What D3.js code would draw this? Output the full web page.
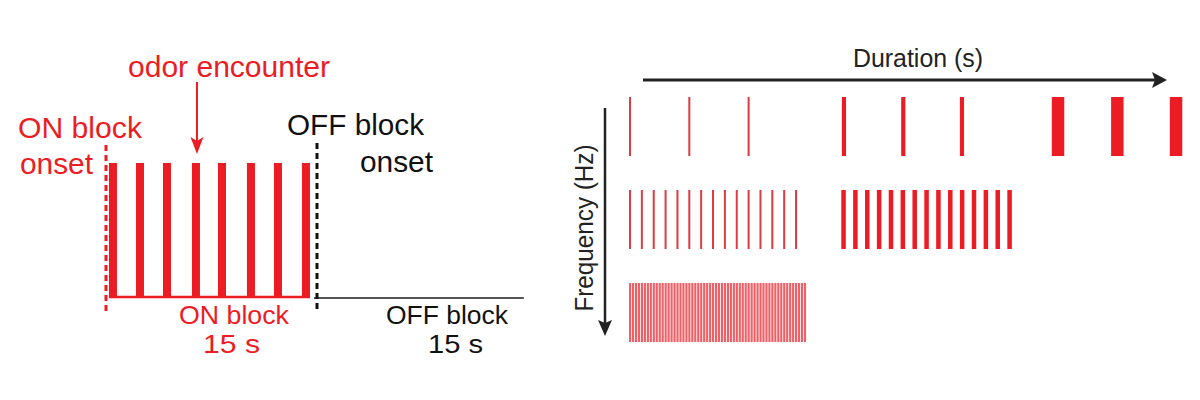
<!DOCTYPE html>
<html>
<head>
<meta charset="utf-8">
<script src="https://cdn.jsdelivr.net/npm/d3@7"></script>
<style>
  html, body { margin: 0; padding: 0; background: #fff; }
  svg { display: block; font-family: "Liberation Sans", Arial, Helvetica, sans-serif; }
</style>
</head>
<body>
<svg id="chart" width="1200" height="400"></svg>
<script>
// ---------- DATA ----------
// Left panel: odor pulses within a 15 s ON block followed by a 15 s OFF block (seconds)
const blockLabels = ["ON block", "OFF block"];
const blockDurations = [15, 15];
const onPulseOnsets = [0.21, 2.13, 4.05, 6.11, 7.96, 10.02, 11.94, 13.93];
const onPulseDuration = 0.57;
const baselineEnd = 29.7;

// Right panel: pulse trains, rows = frequency (low -> high), columns = pulse duration (short -> long)
const rowNames = ["low", "mid", "high"];
const row1Short  = [0, 1, 2];
const row1Medium = [3.59, 4.59, 5.58];
const row1Long   = [7.13, 8.13, 9.12];
const row2Short  = [0, 0.2, 0.4, 0.6, 0.8, 1.0, 1.2, 1.4, 1.6, 1.8, 2.0, 2.2, 2.4, 2.6, 2.8];
const row2Medium = [3.58, 3.78, 3.98, 4.18, 4.38, 4.58, 4.78, 4.98, 5.18, 5.38, 5.58, 5.78, 5.98, 6.18, 6.38];
const row3Short  = [0, 0.05, 0.1, 0.15, 0.2, 0.25, 0.3, 0.35, 0.4, 0.45,
                    0.5, 0.55, 0.6, 0.65, 0.7, 0.75, 0.8, 0.85, 0.9, 0.95,
                    1.0, 1.05, 1.1, 1.15, 1.2, 1.25, 1.3, 1.35, 1.4, 1.45,
                    1.5, 1.55, 1.6, 1.65, 1.7, 1.75, 1.8, 1.85, 1.9, 1.95,
                    2.0, 2.05, 2.1, 2.15, 2.2, 2.25, 2.3, 2.35, 2.4, 2.45,
                    2.5, 2.55, 2.6, 2.65, 2.7, 2.75, 2.8, 2.85, 2.9, 2.95];
const pulseDurations = { short: 0.034, medium: 0.07, long: 0.21, medium2: 0.076, dense: 0.036 };

const trains = [
  { row: "low",  onsets: row1Short,  dur: pulseDurations.short,   kind: "thin" },
  { row: "low",  onsets: row1Medium, dur: pulseDurations.medium,  kind: "solid" },
  { row: "low",  onsets: row1Long,   dur: pulseDurations.long,    kind: "solid" },
  { row: "mid",  onsets: row2Short,  dur: pulseDurations.short,   kind: "thin" },
  { row: "mid",  onsets: row2Medium, dur: pulseDurations.medium2, kind: "solid" },
  { row: "high", onsets: row3Short,  dur: pulseDurations.dense,   kind: "dense" }
];

// ---------- DRAW ----------
const svg = d3.select("#chart");
const RED = "#ec1c24";
const BLACK = "#111";

// Left panel scales
const xL = d3.scaleLinear().domain([0, 15]).range([106, 317]);
const yL = d3.scaleLinear().domain([0, 1]).range([298, 163]);

const left = svg.append("g");

// pulses
left.selectAll("rect.pulse").data(onPulseOnsets).join("rect")
  .attr("class", "pulse")
  .attr("x", d => xL(d))
  .attr("width", xL(onPulseDuration) - xL(0))
  .attr("y", yL(1))
  .attr("height", yL(0) - yL(1))
  .attr("fill", RED);

// baselines
left.append("line")
  .attr("x1", xL(onPulseOnsets[0])).attr("x2", xL(onPulseOnsets[onPulseOnsets.length - 1] + onPulseDuration))
  .attr("y1", yL(0) - 1).attr("y2", yL(0) - 1)
  .attr("stroke", RED).attr("stroke-width", 2.5);
left.append("line")
  .attr("x1", xL(blockDurations[0]) - 3).attr("x2", xL(baselineEnd))
  .attr("y1", yL(0)).attr("y2", yL(0))
  .attr("stroke", "#555").attr("stroke-width", 2);

// dashed onset lines
left.append("line")
  .attr("x1", xL(0)).attr("x2", xL(0)).attr("y1", 145).attr("y2", 313)
  .attr("stroke", RED).attr("stroke-width", 3).attr("stroke-dasharray", "6,4");
left.append("line")
  .attr("x1", xL(blockDurations[0])).attr("x2", xL(blockDurations[0])).attr("y1", 143).attr("y2", 313)
  .attr("stroke", BLACK).attr("stroke-width", 3).attr("stroke-dasharray", "6,4");

// odor encounter arrow
const ax = xL(onPulseOnsets[3]) + (xL(onPulseDuration) - xL(0)) / 2 + 1;
left.append("line").attr("x1", ax).attr("x2", ax).attr("y1", 82).attr("y2", 142)
  .attr("stroke", RED).attr("stroke-width", 2);
left.append("path")
  .attr("d", `M${ax - 6.5},137 L${ax},154 L${ax + 6.5},137 L${ax},141 Z`)
  .attr("fill", RED);

function txt(g, s, x, y, size, color, len) {
  const t = g.append("text").attr("x", x).attr("y", y)
    .attr("font-size", size).attr("fill", color).text(s);
  if (len) t.attr("textLength", len).attr("lengthAdjust", "spacingAndGlyphs");
  return t;
}
txt(left, "odor encounter", 128, 77, 30, RED, 202);
txt(left, "ON block", 18, 138, 30, RED, 124);
txt(left, "onset", 20, 174, 30, RED, 73);
txt(left, "OFF block", 287, 135, 30, BLACK, 137);
txt(left, "onset", 360, 172, 30, BLACK, 73);
txt(left, blockLabels[0], 179, 324, 26.5, RED, 110);
txt(left, blockDurations[0] + " s", 203, 353, 26.5, RED, 57);
txt(left, blockLabels[1], 386, 324, 26.5, BLACK, 122);
txt(left, blockDurations[1] + " s", 428, 353, 26.5, BLACK, 55);

// Right panel scales
const xR = d3.scaleLinear().domain([0, 10]).range([629, 629 + 593]);
const yR = d3.scaleBand().domain(rowNames).range([97, 342]).paddingInner(34 / 93);

const right = svg.append("g");
const colorOf = { thin: "#dc3d45", solid: RED, dense: "#ee5f66" };

trains.forEach(tr => {
  right.selectAll(null).data(tr.onsets).join("rect")
    .attr("x", d => xR(d))
    .attr("width", xR(tr.dur) - xR(0))
    .attr("y", yR(tr.row))
    .attr("height", yR.bandwidth())
    .attr("fill", colorOf[tr.kind]);
});

// Duration axis arrow
right.append("line").attr("x1", 643).attr("x2", 1156).attr("y1", 80).attr("y2", 80)
  .attr("stroke", "#222").attr("stroke-width", 3);
right.append("path").attr("d", "M1152,72 L1167,80 L1152,88 L1155,80 Z").attr("fill", "#222");
txt(right, "Duration (s)", 853, 67, 25, "#222", 130);

// Frequency axis arrow
right.append("line").attr("x1", 605).attr("x2", 605).attr("y1", 108).attr("y2", 324)
  .attr("stroke", "#222").attr("stroke-width", 2.5);
right.append("path").attr("d", "M598,320 L605,336 L612,320 L605,323 Z").attr("fill", "#222");
right.append("text")
  .attr("transform", "translate(593,228) rotate(-90)")
  .attr("text-anchor", "middle")
  .attr("font-size", 25).attr("fill", "#222")
  .attr("textLength", 167).attr("lengthAdjust", "spacingAndGlyphs")
  .text("Frequency (Hz)");
</script>
</body>
</html>
